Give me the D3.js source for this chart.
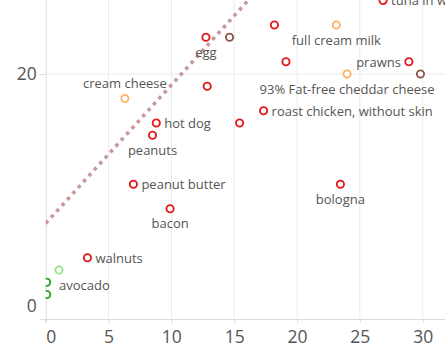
<!DOCTYPE html>
<html>
<head>
<meta charset="utf-8">
<script src="https://cdn.jsdelivr.net/npm/d3@7"></script>
<style>
  html, body { margin: 0; padding: 0; background: #fff; }
  svg { display: block; }
</style>
</head>
<body>
<div id="chart"></div>
<script>
// ---------------- data ----------------
const foods = ["egg", "", "cream cheese", "hot dog", "peanuts", "tuna in water", "", "full cream milk",
  "", "", "prawns", "", "93% Fat-free cheddar cheese", "roast chicken, without skin", "",
  "peanut butter", "bacon", "walnuts", "avocado", "", "", "bologna"];
const xValues = [12.75, 12.85, 6.3, 8.8, 8.5, 26.85, 18.2, 23.13,
  14.63, 19.12, 28.9, 29.82, 23.98, 17.34, 15.43,
  6.98, 9.9, 3.32, 1.06, 0.08, 0.08, 23.45];
const yValues = [23, 19, 18, 16, 15, 26, 24, 24,
  23, 21, 21, 20, 20, 17, 16,
  11, 9, 5, 4, 3, 2, 11];
const groups = ["meat", "meat", "dairy", "meat", "meat", "meat", "meat", "dairy",
  "other", "meat", "meat", "other", "dairy", "meat", "meat",
  "meat", "meat", "meat", "fruit", "vegetable", "vegetable", "meat"];
const xTicks = [0, 5, 10, 15, 20, 25, 30];
const yTicks = [0, 20];
// reference line (two end points in data units)
const lineX = [0, 20];
const lineY = [7.8, 30.4];

// ---------------- layout / style ----------------
const W = 445, H = 356;
const colorScale = d3.scaleOrdinal()
  .domain(["meat", "dairy", "other", "vegetable", "fruit"])
  .range(["#e31a1c", "#fdb366", "#8c564b", "#33a02c", "#9be28a"]);
// label placement per food: side relative to the point
const labelPlace = {
  "egg": "below", "cream cheese": "above", "hot dog": "right", "peanuts": "below",
  "tuna in water": "right", "full cream milk": "below", "prawns": "left",
  "93% Fat-free cheddar cheese": "below", "roast chicken, without skin": "right",
  "peanut butter": "right", "bacon": "below", "walnuts": "right",
  "avocado": "belowright", "bologna": "below"
};

const x = d3.scaleLinear().domain([0, 30]).range([45.7, 422.7]);
const y = d3.scaleLinear().domain([0, 20]).range([319, 74]);

const svg = d3.select("#chart").append("svg")
  .attr("width", W).attr("height", H);

svg.append("defs").append("clipPath").attr("id", "plotclip")
  .append("rect").attr("x", x(0)).attr("y", -50)
  .attr("width", W - x(0) + 50).attr("height", y(0) + 50);

// grid
const grid = svg.append("g");
grid.selectAll("line.vx").data(xTicks.filter(d => d > 0)).join("line")
  .attr("x1", d => x(d)).attr("x2", d => x(d))
  .attr("y1", 0).attr("y2", y(0))
  .attr("stroke", "#ebebeb").attr("stroke-width", 1);
grid.selectAll("line.hy").data(yTicks.filter(d => d > 0)).join("line")
  .attr("x1", x(0)).attr("x2", W)
  .attr("y1", d => y(d)).attr("y2", d => y(d))
  .attr("stroke", "#ebebeb").attr("stroke-width", 1);

// axes
const xAxis = d3.axisBottom(x).tickValues(xTicks).tickSize(4).tickPadding(8).tickFormat(d3.format("d"));
const gx = svg.append("g").attr("transform", `translate(0,${y(0)})`).call(xAxis);
gx.select(".domain").attr("d", `M40,0.5H${W}`).attr("stroke", "#dcdcdc");
gx.selectAll(".tick line").attr("stroke", "#dcdcdc");
gx.selectAll(".tick text")
  .attr("fill", "#555").attr("font-family", "'Open Sans', sans-serif").attr("font-size", 17.5)
  .attr("dy", "0.71em")
  .attr("text-anchor", d => d === 0 ? "start" : "middle");

const yAxis = d3.axisLeft(y).tickValues(yTicks).tickSize(6).tickPadding(3).tickFormat(d3.format("d"));
const gy = svg.append("g").attr("transform", `translate(${x(0)},0)`).call(yAxis);
gy.select(".domain").attr("d", `M0.5,0V${y(0) + 4}`).attr("stroke", "#dcdcdc");
gy.selectAll(".tick line").attr("stroke", "#dcdcdc");
gy.selectAll(".tick text")
  .attr("fill", "#555").attr("font-family", "'Open Sans', sans-serif").attr("font-size", 17.5)
  .attr("dy", d => d === 0 ? "-0.42em" : "0.34em");

const plot = svg.append("g").attr("clip-path", "url(#plotclip)");

// reference line
const lineData = lineX.map((d, i) => [d, lineY[i]]);
plot.append("path").datum(lineData)
  .attr("d", d3.line().x(d => x(d[0])).y(d => y(d[1])))
  .attr("fill", "none").attr("stroke", "#c9999b")
  .attr("stroke-width", 3.6).attr("stroke-dasharray", "3.6 4.4");

// points
const pts = foods.map((f, i) => ({ name: f, x: xValues[i], y: yValues[i], g: groups[i] }));
plot.selectAll("circle").data(pts).join("circle")
  .attr("cx", d => x(d.x)).attr("cy", d => y(d.y)).attr("r", 3.6)
  .attr("fill", "#fff").attr("stroke", d => colorScale(d.g)).attr("stroke-width", 1.9);

// labels
const lab = svg.append("g")
  .attr("font-family", "'Open Sans', sans-serif").attr("font-size", 13).attr("fill", "#555");
lab.selectAll("text").data(pts.filter(d => d.name)).join("text")
  .attr("x", d => {
    const p = labelPlace[d.name], cx = x(d.x);
    if (p === "right") return cx + 8;
    if (p === "left") return cx - 8;
    return cx;
  })
  .attr("y", d => {
    const p = labelPlace[d.name], cy = y(d.y);
    if (p === "right" || p === "left") return cy + 4.8;
    if (p === "above") return cy - 11;
    return cy + 19.5;
  })
  .attr("text-anchor", d => {
    const p = labelPlace[d.name];
    if (p === "left") return "end";
    if (p === "right" || p === "belowright") return "start";
    return "middle";
  })
  .text(d => d.name);
</script>
</body>
</html>
